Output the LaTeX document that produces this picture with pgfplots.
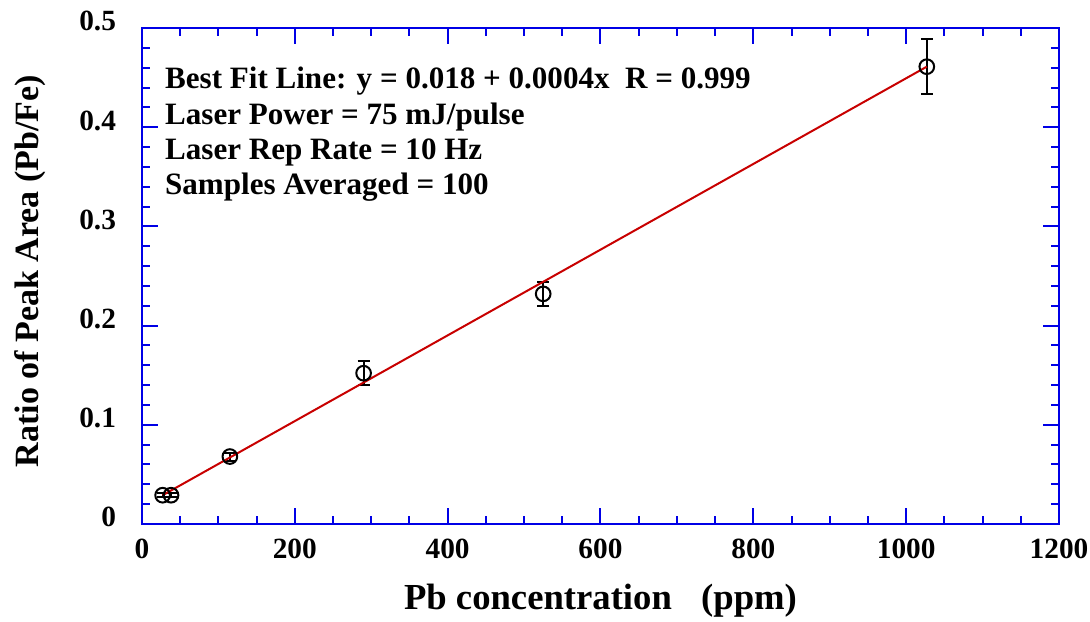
\documentclass[border=0pt]{standalone}
\usepackage{pgfplots}
\pgfplotsset{compat=1.18}
\usepackage{fontspec}
\setmainfont{Liberation Serif}
\definecolor{axblue}{RGB}{0,0,230}
\definecolor{fitred}{RGB}{200,0,0}
\begin{document}
\begin{tikzpicture}
\begin{axis}[
  scale only axis,
  width=687.75pt, height=372pt,
  xmin=0, xmax=1200, ymin=0, ymax=0.5,
  xtick={0,200,...,1200}, ytick={0,0.1,...,0.5},
  minor x tick num=3, minor y tick num=4,
  tick align=inside,
  major tick length=12pt, minor tick length=6pt,
  axis line style={axblue, line width=2pt},
  every tick/.style={axblue, line width=1.5pt},
  /pgf/number format/assume math mode=true,
  /pgf/number format/fixed,
  /pgf/number format/1000 sep={},
  tick label style={font=\fontsize{22}{22}\selectfont\bfseries},
  xticklabel style={yshift=-8pt},
  yticklabel style={xshift=-16pt, yshift=5pt},
  xlabel={Pb concentration\hspace{0.8em}(ppm)},
  ylabel={Ratio of Peak Area (Pb/Fe)},
  xlabel style={font=\fontsize{27.5}{27.5}\selectfont\bfseries, at={(axis description cs:0.5,-0.173)}, anchor=base},
  ylabel style={font=\fontsize{25.5}{25.5}\selectfont\bfseries, at={(axis description cs:-0.122,0.51)}, anchor=center},
  clip=false,
]
\addplot[only marks, mark=o, mark size=5.5pt, black, line width=1.5pt,
  error bars/.cd, y dir=both, y explicit,
  error bar style={black, line width=1.5pt},
  error mark options={black, rotate=90, mark size=4.5pt, line width=1.5pt}]
  coordinates {
  (27,0.029) +- (0,0.002)
  (38,0.029) +- (0,0.002)
  (115,0.068) +- (0,0.004)
  (290,0.152) +- (0,0.012)
  (525,0.232) +- (0,0.012)
  (1027,0.461) +- (0,0.028)
  };
\addplot[fitred, line width=1.5pt] coordinates {(27,0.029) (1027,0.461)};
\node[anchor=north west, align=left, inner sep=0pt,
  font=\fontsize{23.3}{26.3}\selectfont\bfseries]
  at (axis description cs:0.025,0.921)
  {Best Fit Line: y = 0.018 + 0.0004x \ R = 0.999\\
   Laser Power = 75 mJ/pulse\\
   Laser Rep Rate = 10 Hz\\
   Samples Averaged = 100};
\end{axis}
\pgfresetboundingbox
\path[use as bounding box] ([shift={(-106.5pt,-73.5pt)}]current axis.south west) rectangle ([shift={(23.25pt,21pt)}]current axis.north east);
\end{tikzpicture}
\end{document}
